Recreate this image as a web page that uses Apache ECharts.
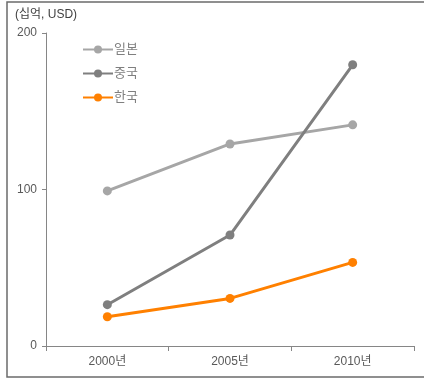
<!DOCTYPE html>
<html>
<head>
<meta charset="utf-8">
<script src="https://cdn.jsdelivr.net/npm/echarts@6/dist/echarts.min.js"></script>
<style>
  html, body { margin: 0; padding: 0; background: #fff; }
  #chart { width: 424px; height: 380px; }
</style>
</head>
<body>
<div id="chart"></div>
<script>
// GDP-style comparison, unit: 십억 USD
const years = ['2000년', '2005년', '2010년'];
const japan = [99.1, 129.1, 141.3];
const china = [26.4, 70.9, 179.7];
const korea = [18.7, 30.4, 53.4];
const yTicks = [0, 100, 200];

const FONT = '"Liberation Sans", "Noto Sans CJK KR", sans-serif';
const chart = echarts.init(document.getElementById('chart'), null, { renderer: 'canvas' });

function line(name, data, color) {
  return {
    name: name,
    type: 'line',
    data: data,
    symbol: 'circle',
    symbolSize: 9,
    lineStyle: { color: color, width: 3 },
    itemStyle: { color: color },
    animation: false
  };
}

chart.setOption({
  animation: false,
  textStyle: { fontFamily: FONT },
  grid: { left: 46, right: 10, top: 33, bottom: 34 },
  graphic: [
    {
      type: 'rect',
      shape: { x: 7, y: 2, width: 440, height: 375 },
      style: { fill: 'none', stroke: '#6b6b6b', lineWidth: 1.5 },
      silent: true
    },
    {
      type: 'text',
      left: 15, top: 9,
      style: { text: '(십억, USD)', fill: '#404040', font: '12px ' + FONT }
    }
  ],
  legend: {
    orient: 'vertical',
    left: 77,
    top: 38,
    itemWidth: 30,
    itemHeight: 10,
    itemGap: 11,
    textStyle: { color: '#7f7f7f', fontSize: 13, fontFamily: FONT, padding: [0, 0, 0, -4] },
    data: ['일본', '중국', '한국']
  },
  xAxis: {
    type: 'category',
    data: years,
    boundaryGap: true,
    axisLine: { lineStyle: { color: '#868686', width: 1 } },
    axisTick: { show: true, length: 5, alignWithLabel: false, lineStyle: { color: '#868686' } },
    axisLabel: { color: '#595959', fontSize: 12, margin: 10, fontFamily: FONT },
    splitLine: { show: false }
  },
  yAxis: {
    type: 'value',
    min: yTicks[0],
    max: yTicks[yTicks.length - 1],
    interval: 100,
    axisLine: { show: true, lineStyle: { color: '#868686', width: 1 } },
    axisTick: { show: true, length: 4, lineStyle: { color: '#868686' } },
    axisLabel: { color: '#595959', fontSize: 12, margin: 9, fontFamily: FONT },
    splitLine: { show: false }
  },
  series: [
    line('일본', japan, '#a6a6a6'),
    line('중국', china, '#7f7f7f'),
    line('한국', korea, '#ff8000')
  ]
});
</script>
</body>
</html>
